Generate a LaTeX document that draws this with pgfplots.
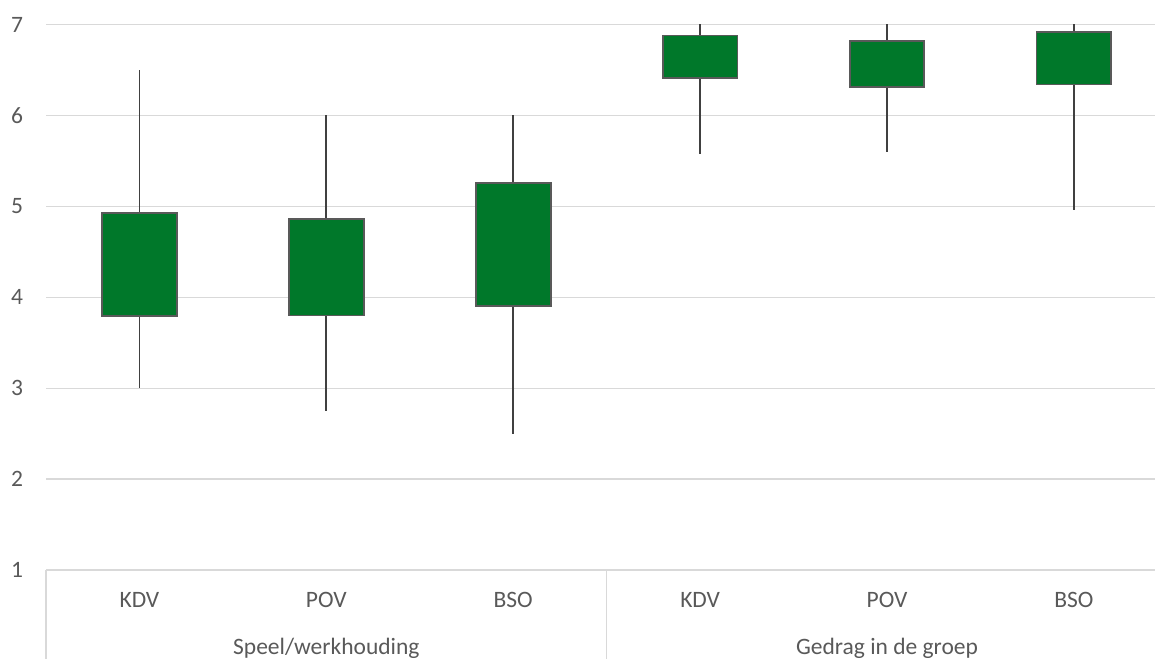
\documentclass[border=0pt]{standalone}
\usepackage{pgfplots}
\pgfplotsset{compat=1.18}
\usepgfplotslibrary{statistics}
\usepackage{fontspec}
\setmainfont{Carlito}
\definecolor{boxgreen}{HTML}{00782A}
\definecolor{boxedge}{HTML}{595959}
\definecolor{whisk}{HTML}{404040}
\definecolor{gridc}{HTML}{D9D9D9}
\definecolor{txt}{HTML}{595959}
\newcommand{\lbl}{\fontsize{23.5pt}{28pt}\selectfont}
\begin{document}
\begin{tikzpicture}
\useasboundingbox (0,0) rectangle (1155pt,658pt);
\clip (0,0) rectangle (1155pt,658pt);
\begin{axis}[
  at={(46pt,88pt)}, anchor=south west,
  scale only axis, width=1121.4pt, height=545.5pt,
  xmin=-0.5, xmax=5.5, ymin=1, ymax=7,
  ytick={1,2,3,4,5,6,7},
  xtick={0,1,2,3,4,5},
  xticklabels={KDV,POV,BSO,KDV,POV,BSO},
  major tick length=0pt,
  axis lines*=left,
  y axis line style={draw=none},
  x axis line style={gridc, line width=1.3pt, -},
  ymajorgrids,
  grid style={gridc, line width=1.3pt},
  /pgf/number format/assume math mode=true,
  yticklabel style={font=\lbl, text=txt, anchor=east, inner sep=0pt, xshift=-22.7pt},
  xticklabel style={font=\lbl, text=txt, anchor=base, inner sep=0pt, yshift=-37pt},
  clip=false,
  boxplot/draw direction=y,
  boxplot/box extend=0.4,
  boxplot/whisker extend=0,
  boxplot/every median/.style={draw=none},
  boxplot/every whisker/.style={draw=whisk, line width=1.8pt},
  boxplot/every box/.style={draw=boxedge, fill=boxgreen, line width=1.8pt},
]
% Speel/werkhouding
\addplot[boxplot prepared={draw position=0, lower whisker=3.00, lower quartile=3.79, median=3.79, upper quartile=4.93, upper whisker=6.50}] coordinates {};
\addplot[boxplot prepared={draw position=1, lower whisker=2.75, lower quartile=3.80, median=3.80, upper quartile=4.86, upper whisker=6.00}] coordinates {};
\addplot[boxplot prepared={draw position=2, lower whisker=2.50, lower quartile=3.90, median=3.90, upper quartile=5.26, upper whisker=6.00}] coordinates {};
% Gedrag in de groep
\addplot[boxplot prepared={draw position=3, lower whisker=5.58, lower quartile=6.41, median=6.41, upper quartile=6.88, upper whisker=7.00}] coordinates {};
\addplot[boxplot prepared={draw position=4, lower whisker=5.60, lower quartile=6.31, median=6.31, upper quartile=6.82, upper whisker=7.00}] coordinates {};
\addplot[boxplot prepared={draw position=5, lower whisker=4.96, lower quartile=6.34, median=6.34, upper quartile=6.92, upper whisker=7.00}] coordinates {};
% category separators and group labels
\draw[gridc, line width=1.3pt] (axis cs:-0.5,1) -- ([yshift=-95pt]axis cs:-0.5,1);
\draw[gridc, line width=1.3pt] (axis cs:2.5,1) -- ([yshift=-95pt]axis cs:2.5,1);
\draw[gridc, line width=1.3pt] (axis cs:5.5,1) -- ([yshift=-95pt]axis cs:5.5,1);
\node[font=\lbl, text=txt, anchor=base, inner sep=0pt] at ([yshift=-84pt]axis cs:1,1) {Speel/werkhouding};
\node[font=\lbl, text=txt, anchor=base, inner sep=0pt] at ([yshift=-84pt]axis cs:4,1) {Gedrag in de groep};
\end{axis}
\end{tikzpicture}
\end{document}
